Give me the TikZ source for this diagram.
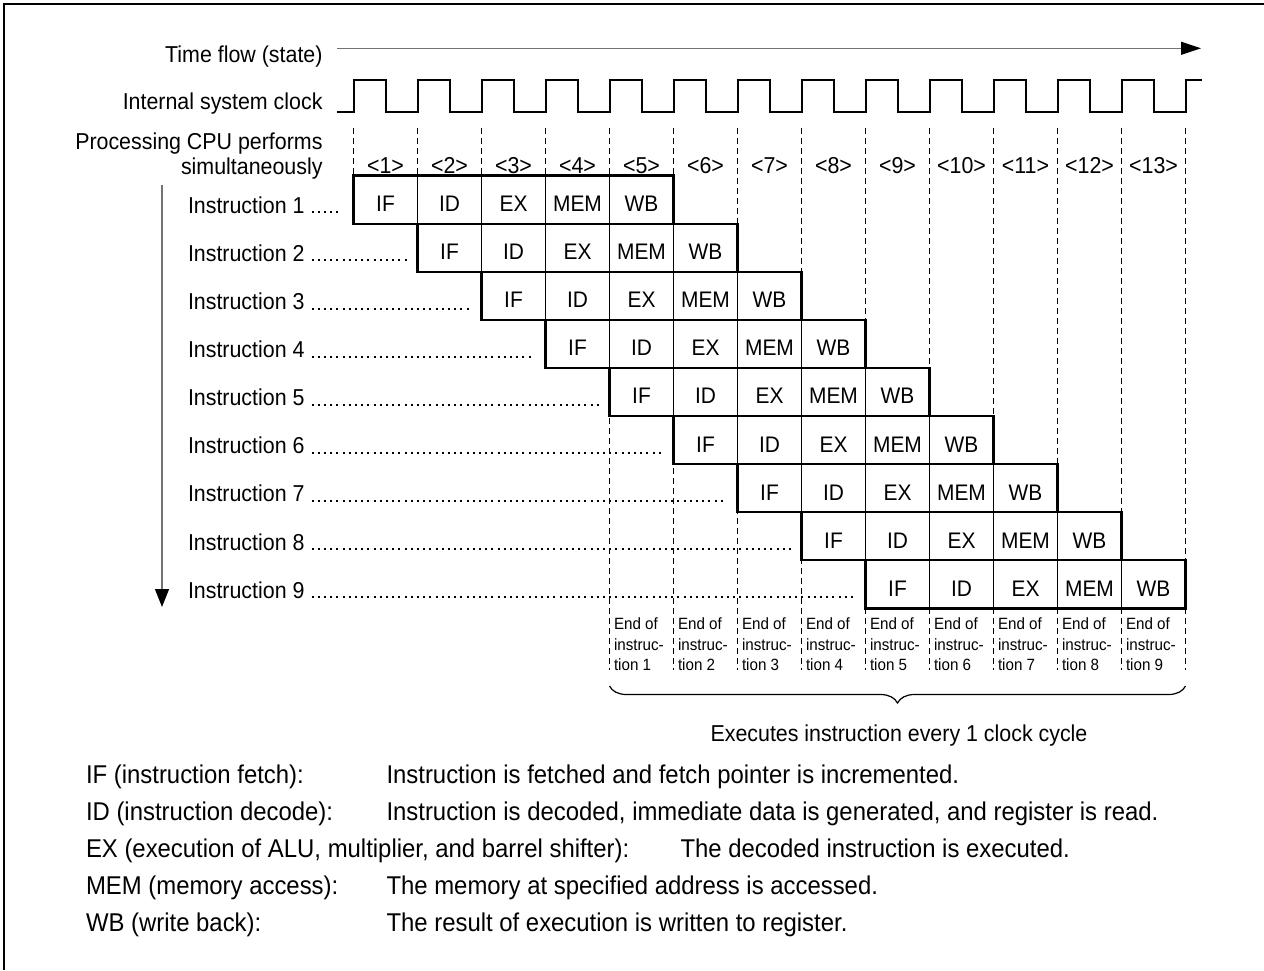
\documentclass[tikz,border=0pt]{standalone}
\usepackage{fontspec}
\setmainfont{Liberation Sans}[FakeStretch=0.93]
\usetikzlibrary{arrows.meta,decorations.pathreplacing}
\definecolor{arrowgray}{gray}{0.45}
\begin{document}
\begin{tikzpicture}[x=1pt,y=-1pt,
  every node/.style={inner sep=0pt,outer sep=0pt},
  lbl/.style={font=\fontsize{23}{27}\selectfont},
  small/.style={font=\fontsize{16.3}{20}\selectfont},
  legend/.style={font=\fontsize{25.7}{30}\selectfont,anchor=base west},
  stagebox/.style={draw,line width=1pt,fill=white,minimum width=64pt,minimum height=48.1pt,
    text height=24pt,text depth=0pt,font=\fontsize{22.5}{27}\selectfont},
  rowframe/.style={line width=2.2pt},
  dashline/.style={line width=1.2pt,dash pattern=on 6pt off 4pt},
  leader/.style={line width=2pt,dash pattern=on 2pt off 4.2pt},
  grayarrow/.style={draw=arrowgray,line width=1.3pt}
]
\useasboundingbox (0,0) rectangle (1264,970);
% frame
\draw[line width=2pt] (4,970) -- (4,4) -- (1264,4);

% top labels
\node[lbl,anchor=base east] (tf) at (322.5,62) {Time flow (state)};
\node[lbl,anchor=base east] (isc) at (322.5,109.5) {Internal system clock};
\node[lbl,anchor=base east] (pcp) at (322.5,149) {Processing CPU performs};
\node[lbl,anchor=base east] (sim) at (322.5,174.5) {simultaneously};

% time arrow
\coordinate (ts) at (337,48.3);
\coordinate (te) at (1201,48.3);
\draw[grayarrow,-{Triangle[length=20pt,width=13pt,color=black,fill=black]}] (ts) -- (te);

% clock
\draw[line width=2pt,line join=miter] (337,111.7) -- (353.5,111.7)
  foreach \k in {0,...,12} { -- ({353.5+64*\k},80) -- ({385.5+64*\k},80) -- ({385.5+64*\k},111.7) -- ({417.5+64*\k},111.7) }
  -- (1185.5,80) -- (1202,80);

% dashed column lines
\foreach \k in {0,...,3} \draw[dashline] ({353.5+64*\k},128) -- ({353.5+64*\k},175.5);
\foreach \k in {4,...,13} \draw[dashline] ({353.5+64*\k},128) -- ({353.5+64*\k},670);

% column labels
\foreach \k in {1,...,13} \node[lbl,anchor=base] (c\k) at ({353.5+64*(\k-1)+32},173) {<\k>};

% vertical arrow
\coordinate (vs) at (162,185);
\coordinate (ve) at (162,607);
\draw[grayarrow,-{Triangle[length=18pt,width=14pt,color=black,fill=black]}] (vs) -- (ve);

% instruction rows
\foreach \i in {1,...,9} {
  \foreach \s [count=\j] in {IF,ID,EX,MEM,WB} {
    \node[stagebox] (b\i-\j) at ({353.5+64*(\i-1)+64*(\j-1)+32},{175.5+48.1*(\i-1)+24.05}) {\s};
  }
  \draw[rowframe] (b\i-1.north west) rectangle (b\i-5.south east);
  \node[lbl,anchor=base west] (L\i) at (188,{175.5+48.1*(\i-1)+37.8}) {Instruction \i};
  \draw[leader] ([xshift=7pt,yshift=1pt]L\i.base east) -- ([xshift=-11pt,yshift=1pt]L\i.base east -| b\i-1.west);
}

% end-of labels
\foreach \n in {1,...,9} {
  \node[small,anchor=base west] (e\n a) at ({609.5+64*(\n-1)+4.5},629) {End of};
  \node[small,anchor=base west] (e\n b) at ({609.5+64*(\n-1)+4.5},650) {instruc-};
  \node[small,anchor=base west] (e\n c) at ({609.5+64*(\n-1)+4.5},670.5) {tion \n};
}

% brace
\coordinate (bl) at (609.5,686);
\coordinate (br) at (1185.5,686);
\draw[line width=1.2pt,decorate,decoration={brace,mirror,amplitude=17pt}] (bl) -- (br);
\node[font=\fontsize{23}{28}\selectfont,anchor=base] (exec) at (899,741.5) {Executes instruction every 1 clock cycle};

% legend
\node[legend] (g1) at (86,783) {IF (instruction fetch):};
\node[legend] (g2) at (86,820) {ID (instruction decode):};
\node[legend] (g3) at (86,857) {EX (execution of ALU, multiplier, and barrel shifter):};
\node[legend] (g4) at (86,894) {MEM (memory access):};
\node[legend] (g5) at (86,931) {WB (write back):};
\node[legend] (d1) at (386.5,783) {Instruction is fetched and fetch pointer is incremented.};
\node[legend] (d2) at (386.5,820) {Instruction is decoded, immediate data is generated, and register is read.};
\node[legend] (d3) at (680.5,857) {The decoded instruction is executed.};
\node[legend] (d4) at (386.5,894) {The memory at specified address is accessed.};
\node[legend] (d5) at (386.5,931) {The result of execution is written to register.};
\end{tikzpicture}
\end{document}
